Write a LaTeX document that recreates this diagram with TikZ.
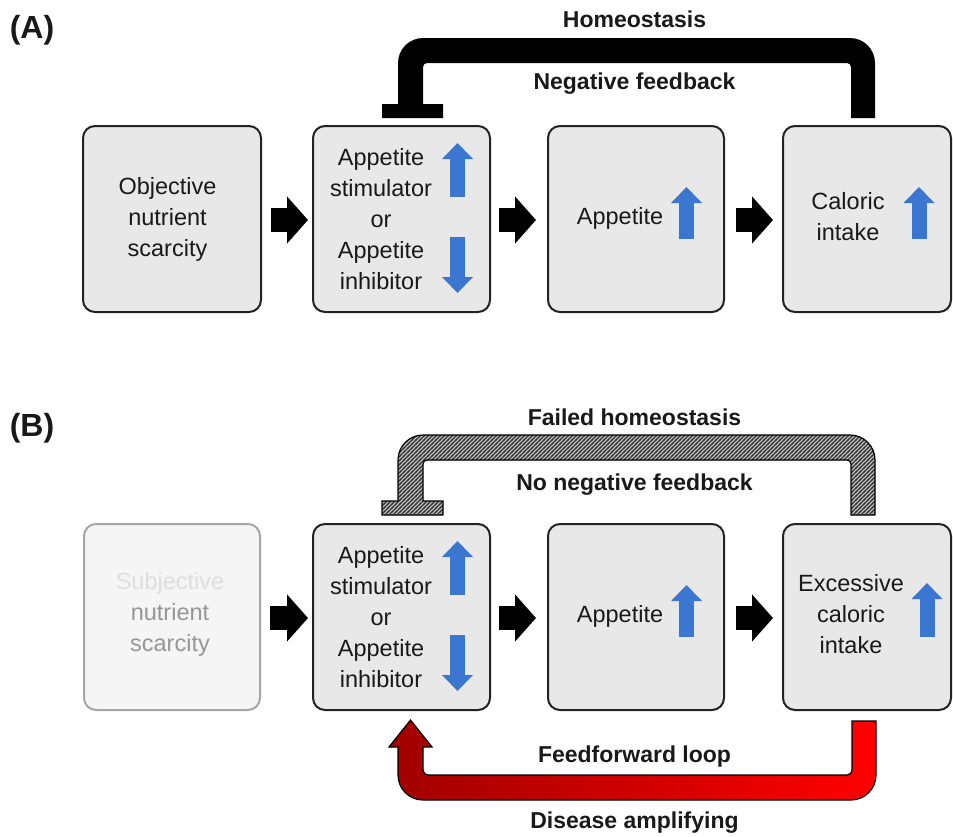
\documentclass[tikz,border=0pt]{standalone}
\usepackage{fontspec}
\setmainfont{Liberation Sans}
\usetikzlibrary{arrows.meta,calc,patterns}
\definecolor{boxfill}{RGB}{232,232,232}
\definecolor{boxline}{RGB}{35,35,35}
\definecolor{upblue}{RGB}{59,118,208}
\definecolor{fadefill}{RGB}{245,245,245}
\definecolor{fadeline}{RGB}{165,165,165}
\definecolor{fadetext}{RGB}{222,222,222}
\definecolor{midtext}{RGB}{150,150,150}
\definecolor{ffdark}{RGB}{160,0,0}
\pgfdeclarepatternformonly{hatchfb}{\pgfqpoint{-1pt}{-1pt}}{\pgfqpoint{5pt}{5pt}}{\pgfqpoint{4pt}{4pt}}{%
  \pgfsetlinewidth{1.3pt}
  \pgfpathmoveto{\pgfqpoint{-1pt}{-1pt}}
  \pgfpathlineto{\pgfqpoint{5pt}{5pt}}
  \pgfusepath{stroke}}

\begin{document}
\begin{tikzpicture}[x=1pt, y=-1pt,
	every node/.style={font=\fontsize{23.5}{31}\selectfont, text=black!90, align=center, inner sep=0pt},
	stage/.style={draw=boxline, fill=boxfill, line width=2pt, rounded corners=12pt, minimum height=186pt},
	faded/.style={stage, draw=fadeline, fill=fadefill},
	blockarr/.style={line width=24pt, -{Triangle[width=46pt,length=21pt]}},
	bluearr/.style={upblue, line width=15pt, -{Triangle[width=30pt,length=16pt]}},
	tag/.style={font=\bfseries\fontsize{23}{28}\selectfont, anchor=base},
	panel/.style={font=\bfseries\fontsize{32}{36}\selectfont},
	fbpath/.style={insert path={(398,104) -- (398,63) arc[start angle=180,end angle=270,radius=25]
		-- (850,38) arc[start angle=270,end angle=360,radius=25] -- (875,118) -- (851,118)
		-- (851,67) arc[start angle=0,end angle=-90,radius=4] -- (427,63) arc[start angle=270,end angle=180,radius=4]
		-- (423,104) -- (443,104) -- (443,118) -- (382,118) -- (382,104) -- cycle}}]
	\useasboundingbox (0,0) rectangle (953,836);

	% (A) homeostasis
	\node[panel] (labA) at (32,30) {(A)};
	\node[stage, minimum width=178pt] (objA) at (172,219) {};
	\node[stage, minimum width=177pt] (stimA) at (401.5,219) {};
	\node[stage, minimum width=176pt] (appA) at (636,219) {};
	\node[stage, minimum width=168pt] (calA) at (867,219) {};
	\node (objAt) at ($(objA)+(-4.5,0)$) {Objective\\nutrient\\scarcity};
	\node (stimAt) at ($(stimA)+(-20.5,0)$) {Appetite\\stimulator\\or\\Appetite\\inhibitor};
	\node (appAt) at ($(appA)+(-16,-1)$) {Appetite};
	\node (calAt) at ($(calA)+(-19,-2.5)$) {Caloric\\intake};
	\draw[bluearr] ($(stimA)+(56,-22)$) -- ($(stimA)+(56,-76)$);
	\draw[bluearr] ($(stimA)+(56,18)$) -- ($(stimA)+(56,74)$);
	\draw[bluearr] ($(appA)+(50.5,20)$) -- ($(appA)+(50.5,-32)$);
	\draw[bluearr] ($(calA)+(52,20)$) -- ($(calA)+(52,-32)$);
	\draw[blockarr] ($(objA.east)+(9,1)$) -- ($(stimA.west)+(-4,1)$);
	\draw[blockarr] ($(stimA.east)+(8,1)$) -- ($(appA.west)+(-11,1)$);
	\draw[blockarr] ($(appA.east)+(11,1)$) -- ($(calA.west)+(-9,1)$);
	\fill[black, fbpath];
	\node[tag] (homeo) at (634.5,27) {Homeostasis};
	\node[tag] (negfb) at (634.5,89) {Negative feedback};

	% (B) failed homeostasis
	\node[panel] (labB) at (32,428) {(B)};
	\node[faded, minimum width=176pt] (subjB) at (172,617) {};
	\node[stage, minimum width=177pt] (stimB) at (401.5,617) {};
	\node[stage, minimum width=176pt] (appB) at (636,617) {};
	\node[stage, minimum width=168pt] (calB) at (867,617) {};
	\node (subjBt) at ($(subjB)+(-2,-3)$) {\textcolor{fadetext}{Subjective}\\\textcolor{midtext}{nutrient}\\\textcolor{midtext}{scarcity}};
	\node (stimBt) at ($(stimB)+(-20.5,0)$) {Appetite\\stimulator\\or\\Appetite\\inhibitor};
	\node (appBt) at ($(appB)+(-16,-1)$) {Appetite};
	\node (calBt) at ($(calB)+(-16,-3)$) {Excessive\\caloric\\intake};
	\draw[bluearr] ($(stimB)+(56,-22)$) -- ($(stimB)+(56,-76)$);
	\draw[bluearr] ($(stimB)+(56,18)$) -- ($(stimB)+(56,74)$);
	\draw[bluearr] ($(appB)+(50.5,20)$) -- ($(appB)+(50.5,-32)$);
	\draw[bluearr] ($(calB)+(60,20)$) -- ($(calB)+(60,-34)$);
	\draw[blockarr] ($(subjB.east)+(9,1)$) -- ($(stimB.west)+(-4,1)$);
	\draw[blockarr] ($(stimB.east)+(8,1)$) -- ($(appB.west)+(-11,1)$);
	\draw[blockarr] ($(appB.east)+(11,1)$) -- ($(calB.west)+(-9,1)$);
	\begin{scope}[yshift=-397pt]
		\fill[gray!45, fbpath];
		\fill[pattern=hatchfb, pattern color=black!80, fbpath];
		\draw[line width=1.2pt, fbpath];
	\end{scope}
	\node[tag] (failed) at (634.5,425) {Failed homeostasis};
	\node[tag] (nonegfb) at (634.5,490) {No negative feedback};
	% feedforward loop
	\draw[line width=1.2pt, left color=ffdark, right color=red] (876,721) -- (876,775) arc[start angle=0,end angle=90,radius=25]
		-- (423,800) arc[start angle=90,end angle=180,radius=25] -- (398,747) -- (389,747) -- (410.5,720) -- (432,747) -- (423,747)
		-- (423,770) arc[start angle=180,end angle=90,radius=5] -- (847,775) arc[start angle=90,end angle=0,radius=5] -- (852,721) -- cycle;
	\node[tag] (ffloop) at (634.5,762) {Feedforward loop};
	\node[tag] (disamp) at (634.5,828) {Disease amplifying};
\end{tikzpicture}
\end{document}
